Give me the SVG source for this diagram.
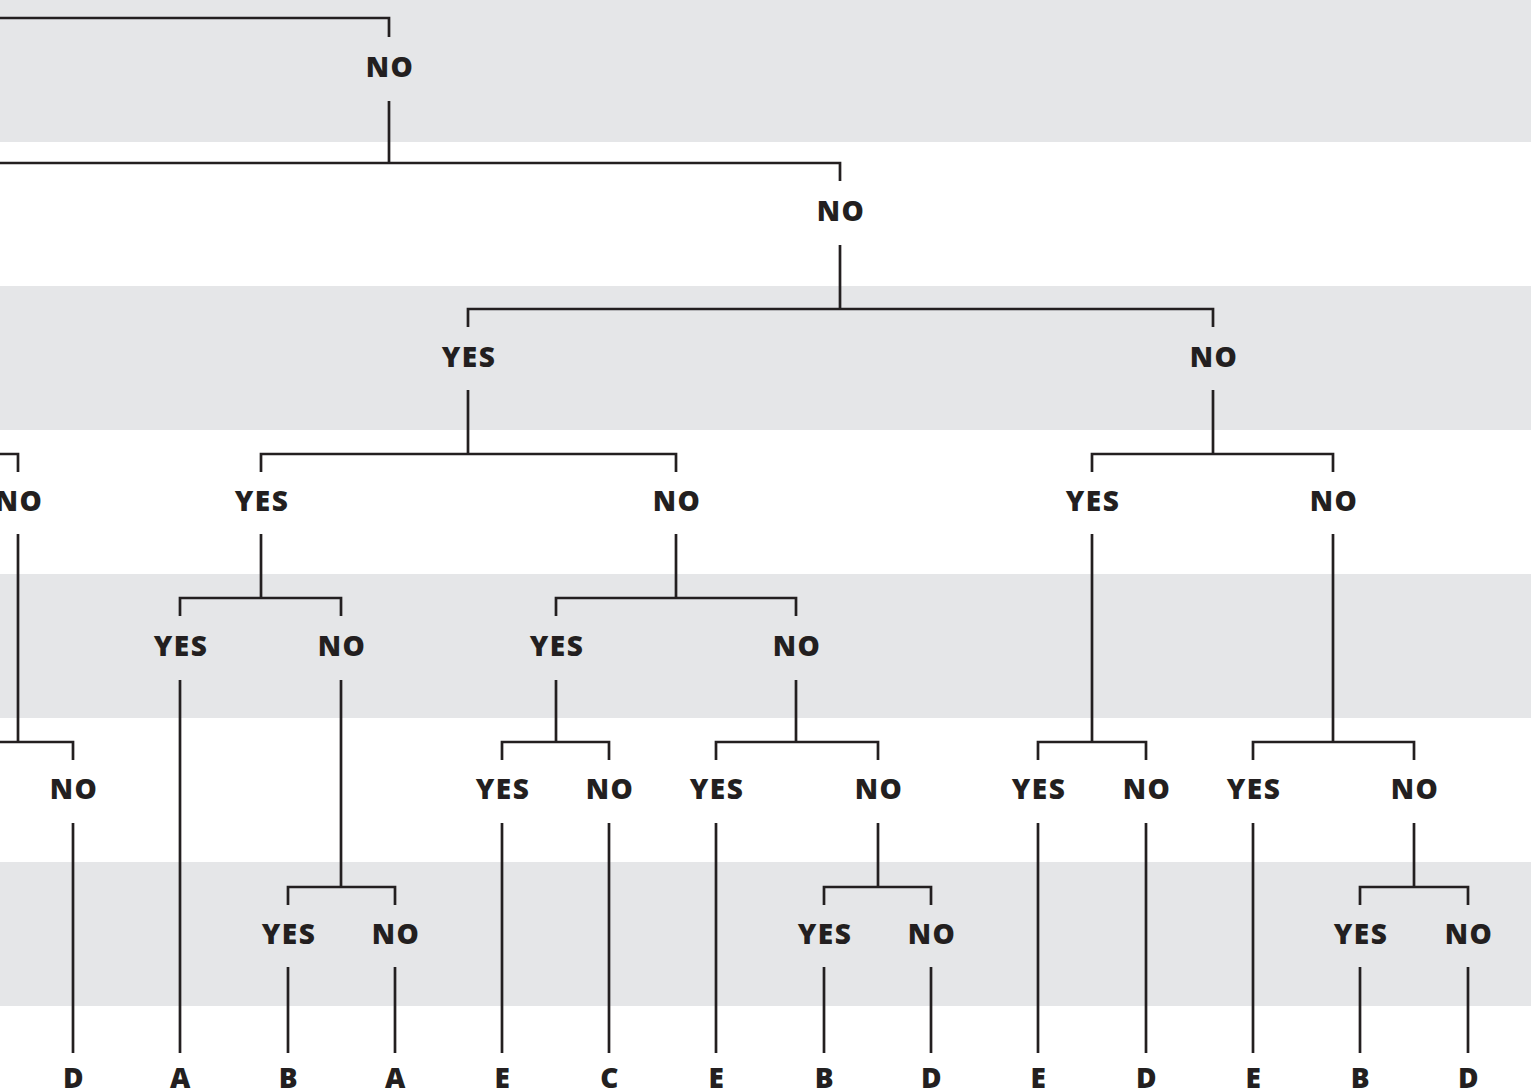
<svg xmlns="http://www.w3.org/2000/svg" width="1531" height="1090" viewBox="0 0 1531 1090">
<style>
.band{fill:#e5e6e8}
.c{fill:none;stroke:#231f20;stroke-width:2.7;stroke-linejoin:miter;stroke-linecap:butt}
.t{font-family:"Open Sans","Noto Sans","Liberation Sans",sans-serif;font-weight:800;font-size:28px;fill:#231f20;text-anchor:middle;letter-spacing:1.5px}
</style>
<rect width="1531" height="1090" fill="#ffffff"/>
<g id="bands">
<rect class="band" x="0" y="0" width="1531" height="142"/>
<rect class="band" x="0" y="286" width="1531" height="144"/>
<rect class="band" x="0" y="574" width="1531" height="144"/>
<rect class="band" x="0" y="862" width="1531" height="144"/>
</g>
<g id="connectors">
<path class="c" d="M0 18 H389 V37"/>
<path class="c" d="M389 101 V163"/>
<path class="c" d="M0 163 H840 V181"/>
<path class="c" d="M840 245 V309"/>
<path class="c" d="M468 327 V309 H1213 V327"/>
<path class="c" d="M468 390 V454"/>
<path class="c" d="M261 472 V454 H676 V472"/>
<path class="c" d="M1213 390 V454"/>
<path class="c" d="M1092 472 V454 H1333 V472"/>
<path class="c" d="M0 454 H18 V472"/>
<path class="c" d="M18 534 V742"/>
<path class="c" d="M0 742 H73 V760"/>
<path class="c" d="M261 534 V598"/>
<path class="c" d="M180 616 V598 H341 V616"/>
<path class="c" d="M676 534 V598"/>
<path class="c" d="M556 616 V598 H796 V616"/>
<path class="c" d="M1092 534 V742"/>
<path class="c" d="M1038 760 V742 H1146 V760"/>
<path class="c" d="M1333 534 V742"/>
<path class="c" d="M1253 760 V742 H1414 V760"/>
<path class="c" d="M180 680 V1053"/>
<path class="c" d="M341 680 V887"/>
<path class="c" d="M288 905 V887 H395 V905"/>
<path class="c" d="M556 680 V742"/>
<path class="c" d="M502 760 V742 H609 V760"/>
<path class="c" d="M796 680 V742"/>
<path class="c" d="M716 760 V742 H878 V760"/>
<path class="c" d="M73 823 V1053"/>
<path class="c" d="M502 823 V1053"/>
<path class="c" d="M609 823 V1053"/>
<path class="c" d="M716 823 V1053"/>
<path class="c" d="M878 823 V887"/>
<path class="c" d="M824 905 V887 H931 V905"/>
<path class="c" d="M1038 823 V1053"/>
<path class="c" d="M1146 823 V1053"/>
<path class="c" d="M1253 823 V1053"/>
<path class="c" d="M1414 823 V887"/>
<path class="c" d="M1360 905 V887 H1468 V905"/>
<path class="c" d="M288 967 V1053"/>
<path class="c" d="M395 967 V1053"/>
<path class="c" d="M824 967 V1053"/>
<path class="c" d="M931 967 V1053"/>
<path class="c" d="M1360 967 V1053"/>
<path class="c" d="M1468 967 V1053"/>
</g>
<g id="n1"><text class="t" x="390" y="77">NO</text></g>
<g id="n2"><text class="t" x="841" y="221">NO</text></g>
<g id="n3a"><text class="t" x="469" y="367">YES</text></g>
<g id="n3b"><text class="t" x="1214" y="367">NO</text></g>
<g id="n4a"><text class="t" x="19" y="511">NO</text></g>
<g id="n4b"><text class="t" x="262" y="511">YES</text></g>
<g id="n4c"><text class="t" x="677" y="511">NO</text></g>
<g id="n4d"><text class="t" x="1093" y="511">YES</text></g>
<g id="n4e"><text class="t" x="1334" y="511">NO</text></g>
<g id="n5a"><text class="t" x="181" y="656">YES</text></g>
<g id="n5b"><text class="t" x="342" y="656">NO</text></g>
<g id="n5c"><text class="t" x="557" y="656">YES</text></g>
<g id="n5d"><text class="t" x="797" y="656">NO</text></g>
<g id="n6a"><text class="t" x="74" y="799">NO</text></g>
<g id="n6b"><text class="t" x="503" y="799">YES</text></g>
<g id="n6c"><text class="t" x="610" y="799">NO</text></g>
<g id="n6d"><text class="t" x="717" y="799">YES</text></g>
<g id="n6e"><text class="t" x="879" y="799">NO</text></g>
<g id="n6f"><text class="t" x="1039" y="799">YES</text></g>
<g id="n6g"><text class="t" x="1147" y="799">NO</text></g>
<g id="n6h"><text class="t" x="1254" y="799">YES</text></g>
<g id="n6i"><text class="t" x="1415" y="799">NO</text></g>
<g id="n7a"><text class="t" x="289" y="944">YES</text></g>
<g id="n7b"><text class="t" x="396" y="944">NO</text></g>
<g id="n7c"><text class="t" x="825" y="944">YES</text></g>
<g id="n7d"><text class="t" x="932" y="944">NO</text></g>
<g id="n7e"><text class="t" x="1361" y="944">YES</text></g>
<g id="n7f"><text class="t" x="1469" y="944">NO</text></g>
<g id="leaf1"><text class="t" x="74" y="1088">D</text></g>
<g id="leaf2"><text class="t" x="181" y="1088">A</text></g>
<g id="leaf3"><text class="t" x="289" y="1088">B</text></g>
<g id="leaf4"><text class="t" x="396" y="1088">A</text></g>
<g id="leaf5"><text class="t" x="503" y="1088">E</text></g>
<g id="leaf6"><text class="t" x="610" y="1088">C</text></g>
<g id="leaf7"><text class="t" x="717" y="1088">E</text></g>
<g id="leaf8"><text class="t" x="825" y="1088">B</text></g>
<g id="leaf9"><text class="t" x="932" y="1088">D</text></g>
<g id="leaf10"><text class="t" x="1039" y="1088">E</text></g>
<g id="leaf11"><text class="t" x="1147" y="1088">D</text></g>
<g id="leaf12"><text class="t" x="1254" y="1088">E</text></g>
<g id="leaf13"><text class="t" x="1361" y="1088">B</text></g>
<g id="leaf14"><text class="t" x="1469" y="1088">D</text></g>
</svg>
